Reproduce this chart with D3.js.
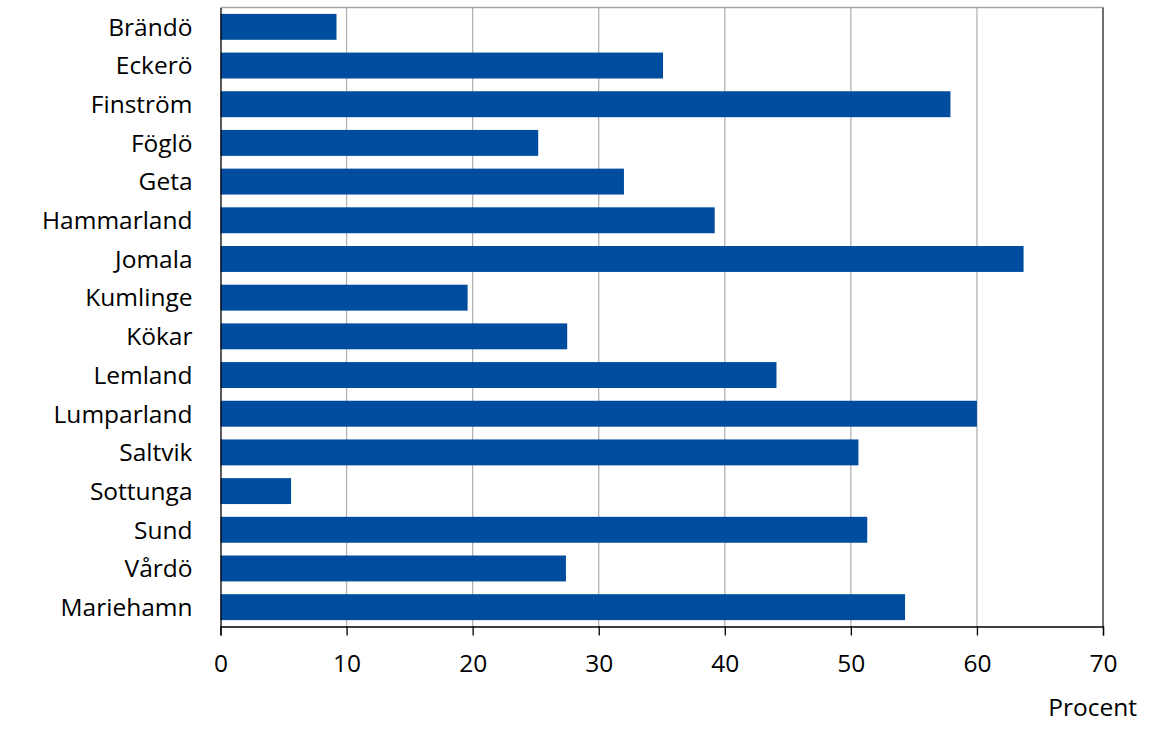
<!DOCTYPE html>
<html><head><meta charset="utf-8">
<script src="https://cdn.jsdelivr.net/npm/d3@7"></script>
<style>body{margin:0;background:#fff}text{font-family:"Open Sans",sans-serif;fill:#000}</style>
</head><body><svg id="c" width="1154" height="731"></svg>
<script>
const categories = ["Brändö","Eckerö","Finström","Föglö","Geta","Hammarland","Jomala","Kumlinge","Kökar","Lemland","Lumparland","Saltvik","Sottunga","Sund","Vårdö","Mariehamn"];
const values = [9.2,35.1,57.9,25.2,32.0,39.2,63.7,19.6,27.5,44.1,60.0,50.6,5.6,51.3,27.4,54.3];
const xTicks = [0,10,20,30,40,50,60,70];
const xLabel = "Procent";

const FS = "24.5px", FF = "'Open Sans', sans-serif";
const svg = d3.select("#c");
const L=220.5, R=1103, T=7.5, B=626.5;
const x = d3.scaleLinear().domain([0,70]).range([L,R]);
const y = d3.scaleBand().domain(categories).range([T,B]).paddingInner(0.33).paddingOuter(0.165);

// grid
svg.append("g").selectAll("line").data(xTicks.filter(d=>d>0&&d<70)).join("line")
  .attr("x1",d=>x(d)).attr("x2",d=>x(d)).attr("y1",T).attr("y2",B)
  .attr("stroke","#b3b3b3").attr("stroke-width",1.3);
svg.append("line").attr("x1",L).attr("x2",R).attr("y1",T).attr("y2",T).attr("stroke","#a6a6a6").attr("stroke-width",1.3);
svg.append("line").attr("x1",R).attr("x2",R).attr("y1",T).attr("y2",B).attr("stroke","#404040").attr("stroke-width",1.5);

// bars
svg.append("g").selectAll("rect").data(values).join("rect")
  .attr("x",x(0)).attr("y",(d,i)=>y(categories[i])).attr("height",y.bandwidth())
  .attr("width",d=>x(d)-x(0)).attr("fill","#004c9f");

// x axis
const xa = svg.append("g").attr("transform",`translate(0,${B})`)
  .call(d3.axisBottom(x).tickValues(xTicks).tickSize(9).tickPadding(19).tickFormat(d3.format("d")));
xa.select(".domain").attr("stroke","#000").attr("stroke-width",1.3);
xa.selectAll(".tick line").attr("stroke","#000").attr("stroke-width",1.3);
xa.selectAll("text").style("font-size",FS).style("font-family",FF).attr("fill","#000");

// y axis
const ya = svg.append("g").attr("transform",`translate(${L},0)`)
  .call(d3.axisLeft(y).tickSize(0).tickPadding(28));
ya.select(".domain").attr("stroke","#000").attr("stroke-width",1.3);
ya.selectAll("text").style("font-size",FS).style("font-family",FF).attr("fill","#000").attr("dy","0.36em");

svg.append("text").attr("x",1137).attr("y",716).attr("text-anchor","end")
  .style("font-size",FS).style("font-family",FF).text(xLabel);
</script></body></html>
